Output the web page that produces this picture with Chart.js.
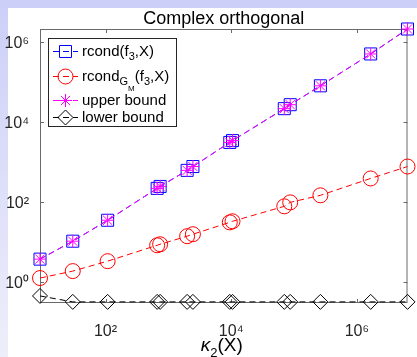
<!DOCTYPE html>
<html>
<head>
<meta charset="utf-8">
<script src="https://cdn.jsdelivr.net/npm/chart.js@4.4.0/dist/chart.umd.min.js"></script>
<style>
  html, body { margin: 0; padding: 0; background: #fff; }
  #wrap { width: 417px; height: 357px; }
</style>
</head>
<body>
<div id="wrap"><canvas id="c" width="417" height="357"></canvas></div>
<script>
// ── Data ──
const kappa      = [9.06, 30.1, 108, 663, 740, 1990, 2460, 9500, 10500, 70000, 87000, 263000, 1.66e6, 6.4e6];
const rcondF3    = [3.74, 10.5, 35, 219, 245, 617, 770, 3080, 3420, 21500, 27000, 80000, 500000, 2.1e6];
const rcondGM    = [1.26, 1.88, 3.33, 8.3, 8.8, 14, 15.7, 31, 33, 78, 98, 147, 388, 770];
const upperBound = [3.74, 10.5, 35, 219, 245, 617, 770, 3080, 3420, 21500, 27000, 80000, 500000, 2.1e6];
const lowerBound = [0.45, 0.32, 0.32, 0.32, 0.32, 0.32, 0.32, 0.32, 0.32, 0.32, 0.32, 0.32, 0.32, 0.32];

const seriesLabels = ['rcond(f3,X)', 'rcondGM(f3,X)', 'upper bound', 'lower bound'];
const xTicks      = [1e2, 1e4, 1e6];
const xTickLabels = ['10\u00b2', '10\u2074', '10\u2076'];
const yTicks      = [1e0, 1e2, 1e4, 1e6];
const yTickLabels = ['10\u2070', '10\u00b2', '10\u2074', '10\u2076'];
const chartTitle  = 'Complex orthogonal';

const FONT = '"Liberation Sans", Arial, Helvetica, sans-serif';
const BLUE = '#0000ff', RED = '#ff0000', MAG = '#ff00ff', BLK = '#000000';
const NONE = 'rgba(0,0,0,0)';

const pts = (xs, ys) => xs.map((v, i) => ({ x: v, y: ys[i] }));
const ds = (label, data, color, style, r, order) => ({
  label, data: pts(kappa, data), showLine: true, borderColor: color, backgroundColor: NONE,
  borderWidth: 1, borderDash: [6, 4], tension: 0, clip: false, order,
  pointStyle: style, pointRadius: r, pointHoverRadius: r, pointBorderColor: color,
  pointBackgroundColor: NONE, pointBorderWidth: 1
});

// texto con sub-índices: [texto, tamaño, desplazamiento y, cursiva]
function rich(ctx, parts, x, y, measureOnly) {
  let w = 0;
  parts.forEach(([t, size, dy, it]) => {
    ctx.font = `${it ? 'italic ' : ''}${size}px ${FONT}`;
    if (!measureOnly) ctx.fillText(t, x + w, y + dy);
    w += ctx.measureText(t).width;
  });
  return w;
}

function marker(ctx, style, x, y, r) {
  ctx.beginPath();
  if (style === 'rect') ctx.rect(x - r, y - r, 2 * r, 2 * r);
  else if (style === 'circle') ctx.arc(x, y, r, 0, Math.PI * 2);
  else if (style === 'rectRot') { ctx.moveTo(x, y - r); ctx.lineTo(x + r, y); ctx.lineTo(x, y + r); ctx.lineTo(x - r, y); ctx.closePath(); }
  else if (style === 'star') {
    for (let k = 0; k < 4; k++) {
      const a = k * Math.PI / 4;
      ctx.moveTo(x - r * Math.cos(a), y - r * Math.sin(a));
      ctx.lineTo(x + r * Math.cos(a), y + r * Math.sin(a));
    }
  }
  ctx.stroke();
}

const legendItems = [
  { parts: [['rcond(f', 15, 0], ['3', 11, 4], [',X)', 15, 0]], color: BLUE, style: 'rect', r: 6, y: 51 },
  { parts: [['rcond', 15, 0], ['G', 11, 4], ['M', 8, 10], ['(f', 15, 0], ['3', 11, 4], [',X)', 15, 0]], color: RED, style: 'circle', r: 7.5, y: 76 },
  { parts: [['upper bound', 15, 0]], color: MAG, style: 'star', r: 6.5, y: 100 },
  { parts: [['lower bound', 15, 0]], color: BLK, style: 'rectRot', r: 7.5, y: 117 }
];

const deco = {
  id: 'deco',
  beforeDraw(c) {
    const ctx = c.ctx;
    const g = ctx.createLinearGradient(0, 0, 0, 357);
    g.addColorStop(0, '#cccff8');
    g.addColorStop(1, '#eeeefa');
    ctx.save();
    ctx.fillStyle = g;
    ctx.fillRect(0, 0, 417, 357);
    ctx.fillStyle = '#ffffff';
    ctx.fillRect(8, 8, 409, 349);
    ctx.restore();
  },
  beforeDatasetsDraw(c) {
    const { ctx, chartArea: a, scales: { x, y } } = c;
    ctx.save();
    ctx.strokeStyle = '#6a6a6a';
    ctx.lineWidth = 1;
    ctx.strokeRect(a.left + 0.5, a.top + 0.5, a.right - a.left - 1, a.bottom - a.top - 1);
    ctx.beginPath();
    xTicks.forEach(v => {
      const p = Math.round(x.getPixelForValue(v)) + 0.5;
      ctx.moveTo(p, a.bottom); ctx.lineTo(p, a.bottom - 4);
      ctx.moveTo(p, a.top); ctx.lineTo(p, a.top + 4);
    });
    yTicks.forEach(v => {
      const p = Math.round(y.getPixelForValue(v)) + 0.5;
      ctx.moveTo(a.left, p); ctx.lineTo(a.left + 4, p);
      ctx.moveTo(a.right, p); ctx.lineTo(a.right - 4, p);
    });
    ctx.stroke();
    ctx.restore();
  },
  afterDraw(c) {
    const { ctx, chartArea: a } = c;
    const cx = (a.left + a.right) / 2;
    ctx.save();
    ctx.fillStyle = '#000';
    ctx.textBaseline = 'alphabetic';
    // título
    ctx.font = `18px ${FONT}`;
    ctx.textAlign = 'center';
    ctx.fillText(chartTitle, cx, 24);
    // título eje x: κ₂(X)
    ctx.textAlign = 'left';
    const xt = [['\u03ba', 19, 0, true], ['2', 13, 6], ['(X)', 19, 0]];
    const w = rich(ctx, xt, 0, 0, true);
    rich(ctx, xt, cx - 2 - w / 2, 351);
    // leyenda
    ctx.fillStyle = '#fff';
    ctx.fillRect(48, 38, 129, 89);
    ctx.strokeStyle = '#262626';
    ctx.lineWidth = 1;
    ctx.strokeRect(48.5, 38.5, 128, 88);
    legendItems.forEach(it => {
      ctx.strokeStyle = it.color;
      ctx.setLineDash([6, 4]);
      ctx.beginPath(); ctx.moveTo(53, it.y + 0.5); ctx.lineTo(78, it.y + 0.5); ctx.stroke();
      ctx.setLineDash([]);
      marker(ctx, it.style, 65.5, it.y + 0.5, it.r);
      ctx.fillStyle = '#000';
      rich(ctx, it.parts, 82, it.y + 5);
    });
    ctx.restore();
  }
};

const tickFont = { family: FONT, size: 16 };

new Chart(document.getElementById('c'), {
  type: 'scatter',
  data: {
    datasets: [
      ds(seriesLabels[0], rcondF3, BLUE, 'rect', 8.5, 4),
      ds(seriesLabels[1], rcondGM, RED, 'circle', 7.5, 3),
      ds(seriesLabels[2], upperBound, MAG, 'star', 6.5, 2),
      ds(seriesLabels[3], lowerBound, BLK, 'rectRot', 7.5, 1)
    ]
  },
  options: {
    responsive: false, animation: false, events: [],
    layout: { padding: { left: 0, right: 7, top: 29, bottom: 0 } },
    plugins: { legend: { display: false }, tooltip: { enabled: false }, title: { display: false } },
    scales: {
      x: {
        type: 'logarithmic', min: Math.min(...kappa), max: Math.max(...kappa),
        afterBuildTicks: s => { s.ticks = xTicks.map(v => ({ value: v })); },
        afterFit: s => { s.height = 54; },
        ticks: { callback: (v, i) => xTickLabels[i], color: '#262626', font: tickFont, padding: 11, maxRotation: 0, autoSkip: false },
        grid: { display: false }, border: { display: false }
      },
      y: {
        type: 'logarithmic', min: Math.min(...lowerBound), max: Math.max(...upperBound),
        afterBuildTicks: s => { s.ticks = yTicks.map(v => ({ value: v })); },
        afterFit: s => { s.width = 40; },
        ticks: { callback: (v, i) => yTickLabels[i], color: '#262626', font: tickFont, padding: 3, labelOffset: 2, autoSkip: false },
        grid: { display: false }, border: { display: false }
      }
    }
  },
  plugins: [deco]
});
</script>
</body>
</html>
